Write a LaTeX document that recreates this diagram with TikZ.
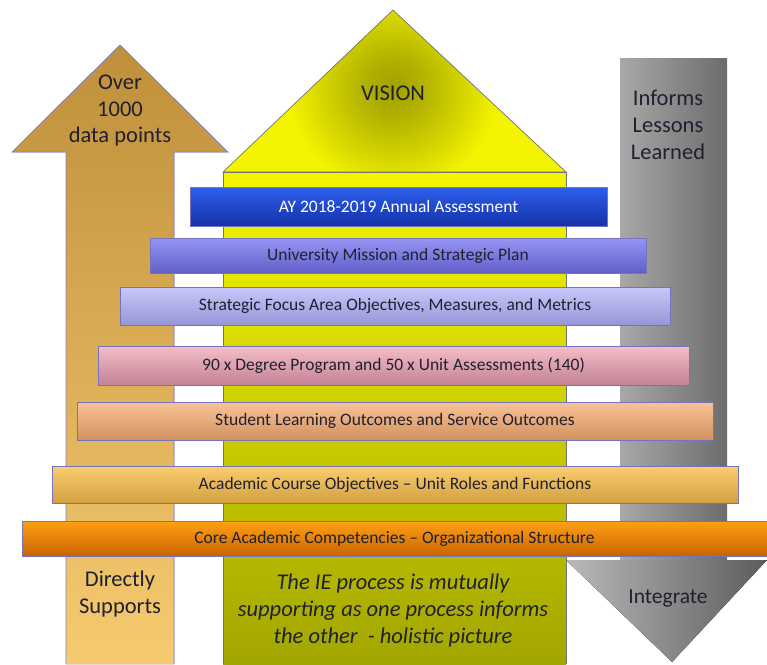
\documentclass[tikz,border=0pt]{standalone}
\usepackage{fontspec}
\setmainfont{Carlito}
\definecolor{tanTop}{HTML}{BF8F3A}
\definecolor{tanBot}{HTML}{F6CB70}
\definecolor{yelA}{HTML}{F4F400}
\definecolor{yelB}{HTML}{A2A600}
\definecolor{yelC}{HTML}{A0A000}
\definecolor{grayL}{HTML}{A8A8A8}
\definecolor{grayR}{HTML}{6C6C6C}
\definecolor{txt}{HTML}{202030}
\pgfdeclareradialshading{visionshade}{\pgfpoint{0bp}{0bp}}{color(0bp)=(yelC); color(6bp)=(yelC!80!yelA); color(22bp)=(yelA); color(50bp)=(yelA)}
\begin{document}
\begin{tikzpicture}[x=1pt,y=-1pt,
  outl/.style={draw=black!55, line width=0.7pt},
  bar/.style={draw=black!45!blue!55, line width=0.7pt, inner sep=0pt,
    font=\fontsize{17.5}{20}\selectfont, text=txt},
  big/.style={font=\fontsize{22.5}{26.5}\selectfont, align=center, text=txt}]
\useasboundingbox (0,0) rectangle (767,664);
% left arrow
\fill[top color=tanTop, bottom color=tanBot]
  (66,664) -- (66,152) -- (12,152) -- (120,45) -- (228,152) -- (174,152) -- (174,664) -- cycle;
\draw[draw=black!30!blue!50, line width=0.7pt]
  (66,664) -- (66,152) -- (12,152) -- (120,45) -- (228,152) -- (174,152) -- (174,664);
% gray arrow
\fill[left color=grayL, right color=grayR] (620,58) rectangle (727,562);
\fill[left color=grayL!80!white, right color=grayR!85!black] (566,560) -- (767,560) -- (672,662) -- cycle;
% yellow house
\begin{scope}
  \clip (223,172) -- (393,10) -- (566,172) -- cycle;
  \fill[yelA] (223,172) -- (393,10) -- (566,172) -- cycle;
  \shade[shading=visionshade] (393,88) circle (120);
\end{scope}
\draw[outl] (223,172) -- (393,10) -- (566,172) -- cycle;
\filldraw[fill=yelA, outl] (223,172) rectangle (566,186);
\fill[top color=yelA, bottom color=yelB] (223,186) rectangle (566,664);
\draw[outl] (223,664) -- (223,186) (566,186) -- (566,664);
% texts on arrows
\node[big] (over) at (120,111) {Over\\1000\\data points};
\node[big] (vision) at (393,93) {VISION};
\node[big, font=\fontsize{22.5}{27}\selectfont] (informs) at (668,125) {Informs\\Lessons\\Learned};
\node[big, font=\fontsize{21.5}{26}\selectfont] (integrate) at (668,598) {Integrate};
\node[big, font=\fontsize{22.5}{27}\selectfont] (directly) at (120,594) {Directly\\Supports};
\node[big, font=\fontsize{22.5}{27}\selectfont\itshape] (ie) at (393,610)
  {The IE process is mutually\\supporting as one process informs\\the other\ \ - holistic picture};
% bars
\node[bar, minimum width=417, minimum height=39, top color={rgb,255:red,45;green,95;blue,235}, bottom color={rgb,255:red,20;green,50;blue,170}, text=white] (b1) at (398.5,206.5) {AY 2018-2019 Annual Assessment};
\node[bar, minimum width=496, minimum height=35, top color={rgb,255:red,150;green,150;blue,245}, bottom color={rgb,255:red,95;green,95;blue,200}] (b2) at (398,255.5) {University Mission and Strategic Plan};
\node[bar, minimum width=550, minimum height=38, top color={rgb,255:red,200;green,200;blue,250}, bottom color={rgb,255:red,150;green,150;blue,215}] (b3) at (395,306) {Strategic Focus Area Objectives, Measures, and Metrics};
\node[bar, minimum width=591, minimum height=39, top color={rgb,255:red,245;green,190;blue,200}, bottom color={rgb,255:red,195;green,130;blue,150}] (b4) at (393.5,365.5) {90 x Degree Program and 50 x Unit Assessments (140)};
\node[bar, minimum width=636, minimum height=38, top color={rgb,255:red,248;green,195;blue,150}, bottom color={rgb,255:red,210;green,145;blue,95}] (b5) at (395,421) {Student Learning Outcomes and Service Outcomes};
\node[bar, minimum width=686, minimum height=37, top color={rgb,255:red,250;green,205;blue,110}, bottom color={rgb,255:red,210;green,160;blue,65}] (b6) at (395,484.5) {Academic Course Objectives -- Unit Roles and Functions};
\node[bar, minimum width=745, minimum height=35, top color={rgb,255:red,255;green,160;blue,20}, bottom color={rgb,255:red,200;green,100;blue,0}] (b7) at (394.5,538.5) {Core Academic Competencies -- Organizational Structure};
\end{tikzpicture}
\end{document}
